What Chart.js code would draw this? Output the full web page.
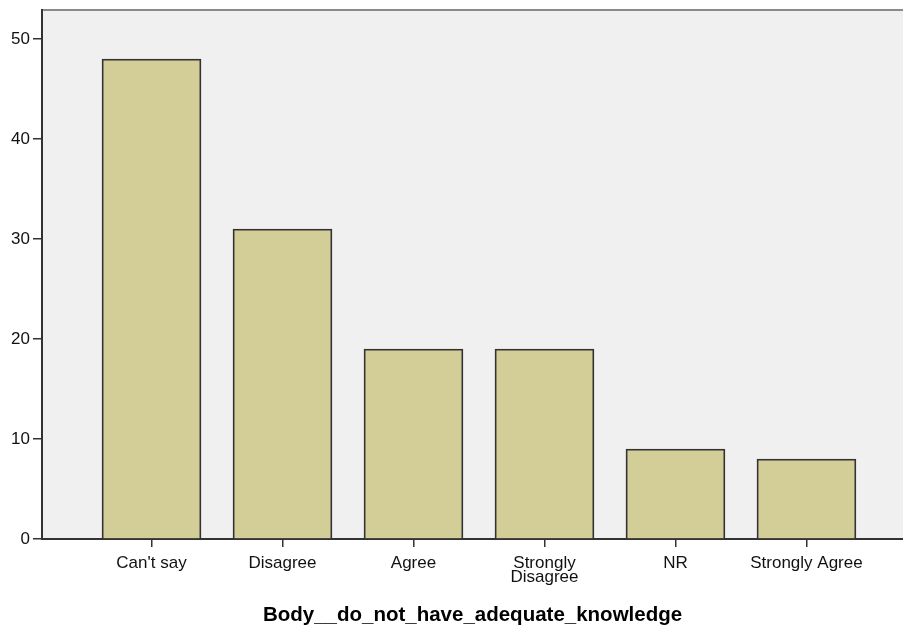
<!DOCTYPE html>
<html>
<head>
<meta charset="utf-8">
<script src="https://cdn.jsdelivr.net/npm/chart.js@4/dist/chart.umd.min.js"></script>
<style>
  html, body { margin: 0; padding: 0; background: #ffffff; }
  #wrap { width: 903px; height: 631px; position: relative; }
</style>
</head>
<body>
<div id="wrap"><canvas id="c" width="903" height="631"></canvas></div>
<script>
// ---- data ----
const categories = ["Can't say", "Disagree", "Agree", "Strongly Disagree", "NR", "Strongly Agree"];
const tickLabels = ["Can't say", "Disagree", "Agree", ["Strongly", "Disagree"], "NR", "Strongly Agree"];
const counts = [48, 31, 19, 19, 9, 8];
const yTicks = [0, 10, 20, 30, 40, 50];
const xTitle = "Body__do_not_have_adequate_knowledge";

const points = counts.map((v, i) => ({ x: i, y: v }));

const plotBg = {
  id: 'plotBg',
  beforeDraw(chart) {
    const { ctx, chartArea: a } = chart;
    ctx.save();
    ctx.fillStyle = '#f0f0f0';
    ctx.fillRect(a.left, a.top, a.right - a.left, a.bottom - a.top);
    ctx.strokeStyle = '#8a8a8a';
    ctx.lineWidth = 2;
    ctx.beginPath();
    ctx.moveTo(a.left, a.top);
    ctx.lineTo(a.right, a.top);
    ctx.stroke();
    ctx.restore();
  }
};

new Chart(document.getElementById('c'), {
  type: 'bar',
  data: {
    datasets: [{
      data: points,
      backgroundColor: '#d3cd97',
      borderColor: '#333333',
      borderWidth: 1.8,
      barThickness: 99
    }]
  },
  options: {
    responsive: false,
    animation: false,
    events: [],
    layout: { padding: { top: 10, left: 0, right: 0, bottom: 0 } },
    plugins: { legend: { display: false }, tooltip: { enabled: false } },
    scales: {
      x: {
        type: 'linear',
        offset: false,
        min: -0.836,
        max: 5.737,
        afterBuildTicks(scale) { scale.ticks = categories.map((c, i) => ({ value: i })); },
        afterFit(scale) { scale.height = 92; scale.paddingLeft = 0; scale.paddingRight = 0; },
        grid: { offset: false, drawOnChartArea: false, drawTicks: true, tickLength: 8, color: '#333333', lineWidth: 1.5 },
        border: { display: true, color: '#333333', width: 2 },
        ticks: {
          autoSkip: false,
          maxRotation: 0,
          padding: 9,
          color: '#111111',
          font: { family: '"Liberation Sans", Arial, sans-serif', size: 17, lineHeight: 0.83 },
          callback: (v) => tickLabels[v]
        },
        title: {
          display: true,
          text: xTitle,
          color: '#000000',
          font: { family: '"Liberation Sans", Arial, sans-serif', size: 20.5, weight: 'bold' },
          padding: { top: 0, bottom: 3 }
        }
      },
      y: {
        min: 0,
        max: 52.9,
        afterBuildTicks(scale) { scale.ticks = yTicks.map(v => ({ value: v })); },
        afterFit(scale) { scale.width = 42; scale.paddingTop = 0; scale.paddingBottom = 0; },
        grid: { drawOnChartArea: false, drawTicks: true, tickLength: 9, color: '#333333', lineWidth: 1.5 },
        border: { display: true, color: '#333333', width: 2 },
        ticks: {
          padding: 3,
          color: '#111111',
          font: { family: '"Liberation Sans", Arial, sans-serif', size: 17 }
        }
      }
    }
  },
  plugins: [plotBg]
});
</script>
</body>
</html>
